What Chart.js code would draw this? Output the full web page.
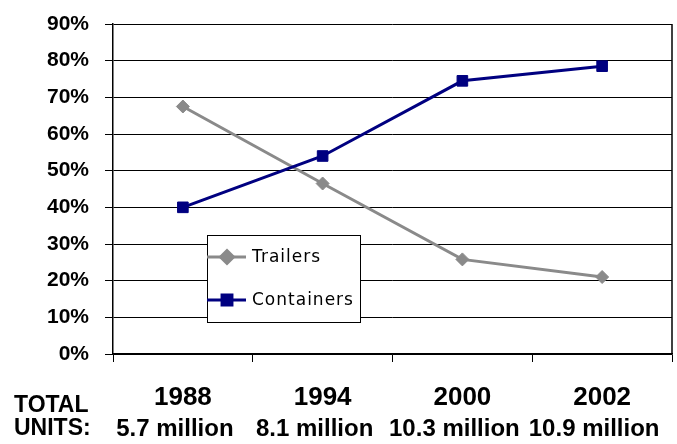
<!DOCTYPE html>
<html>
<head>
<meta charset="utf-8">
<script src="https://cdn.jsdelivr.net/npm/chart.js@4.4.1/dist/chart.umd.min.js"></script>
<style>
  body { margin: 0; background: #fff; }
  #wrap { width: 677px; height: 444px; }
</style>
</head>
<body>
<div id="wrap"><canvas id="shareChart" width="677" height="444"></canvas></div>
<script>
const years = ['1988', '1994', '2000', '2002'];
const totals = ['5.7 million', '8.1 million', '10.3 million', '10.9 million'];
const trailers = [67.5, 46.5, 25.8, 21];
const containers = [40, 54, 74.5, 78.5];
const yTicks = [0, 10, 20, 30, 40, 50, 60, 70, 80, 90];

const GRAY = '#8a8a8a';
const NAVY = '#000080';

// right edge of the plot frame
const rightFrame = {
    id: 'rightFrame',
    afterDatasetsDraw(chart) {
        const a = chart.chartArea;
        const ctx = chart.ctx;
        ctx.save();
        ctx.strokeStyle = '#000';
        ctx.lineWidth = 1.5;
        ctx.beginPath();
        ctx.moveTo(a.right, a.top);
        ctx.lineTo(a.right, a.bottom);
        ctx.stroke();
        ctx.restore();
    }
};

// bottom row: "TOTAL UNITS:" plus the totals under each year
const totalsRow = {
    id: 'totalsRow',
    afterDraw(chart) {
        const ctx = chart.ctx;
        const x = chart.scales.x;
        ctx.save();
        ctx.fillStyle = '#000';
        ctx.font = 'bold 23px "Liberation Sans", Arial, sans-serif';
        ctx.textBaseline = 'middle';
        ctx.textAlign = 'left';
        ctx.fillText('TOTAL', 14, 406);
        ctx.fillText('UNITS:', 14, 429);
        ctx.font = 'bold 24px "Liberation Sans", Arial, sans-serif';
        ctx.textAlign = 'center';
        totals.forEach((t, i) => {
            ctx.fillText(t, x.getPixelForValue(i) - 8, 429);
        });
        ctx.restore();
    }
};

// legend box sitting inside the plot
const boxLegend = {
    id: 'boxLegend',
    afterDraw(chart) {
        const ctx = chart.ctx;
        const left = 207, top = 235, w = 153, h = 87;
        ctx.save();
        ctx.fillStyle = '#fff';
        ctx.fillRect(left, top, w, h);
        ctx.strokeStyle = '#000';
        ctx.lineWidth = 1;
        ctx.strokeRect(left + 0.5, top + 0.5, w, h);

        const items = [
            { label: 'Trailers', color: GRAY, style: 'rectRot', y: top + 22 },
            { label: 'Containers', color: NAVY, style: 'rect', y: top + 65 }
        ];
        items.forEach(it => {
            ctx.strokeStyle = it.color;
            ctx.lineWidth = 3;
            ctx.beginPath();
            ctx.moveTo(left, it.y);
            ctx.lineTo(left + 39, it.y);
            ctx.stroke();
            Chart.helpers.drawPoint(ctx, {
                pointStyle: it.style, radius: it.style === 'rect' ? 7 : 6.5,
                borderWidth: 1
            }, left + 20, it.y);
            ctx.fillStyle = it.color;
            ctx.fill();
            ctx.fillStyle = '#000';
            ctx.font = '17px "DejaVu Sans", Verdana, sans-serif';
            ctx.letterSpacing = '1px';
            ctx.textAlign = 'left';
            ctx.textBaseline = 'middle';
            ctx.fillText(it.label, left + 45, it.y + 1);
        });
        ctx.restore();
    }
};

new Chart(document.getElementById('shareChart').getContext('2d'), {
    type: 'line',
    data: {
        labels: years,
        datasets: [
            {
                label: 'Trailers',
                data: trailers,
                borderColor: GRAY,
                backgroundColor: GRAY,
                borderWidth: 3,
                pointStyle: 'rectRot',
                pointRadius: 6.5,
                pointBorderWidth: 1,
                tension: 0,
                order: 1
            },
            {
                label: 'Containers',
                data: containers,
                borderColor: NAVY,
                backgroundColor: NAVY,
                borderWidth: 3,
                pointStyle: 'rect',
                pointRadius: 7.5,
                pointBorderWidth: 1,
                tension: 0,
                order: 0
            }
        ]
    },
    options: {
        responsive: false,
        animation: false,
        layout: {
            autoPadding: false,
            padding: { top: 24, right: 5, left: 0, bottom: 0 }
        },
        plugins: {
            legend: { display: false },
            tooltip: { enabled: false }
        },
        scales: {
            x: {
                offset: true,
                afterFit(scale) {
                    scale.height = 90;
                    scale.paddingLeft = 0;
                    scale.paddingRight = 0;
                },
                grid: {
                    offset: true,
                    drawOnChartArea: false,
                    color: '#000',
                    tickLength: 8
                },
                border: { color: '#000', width: 1.5 },
                ticks: {
                    color: '#000',
                    padding: 20,
                    maxRotation: 0,
                    font: { family: '"Liberation Sans", Arial, sans-serif', size: 26, weight: 'bold' }
                }
            },
            y: {
                min: 0,
                max: 90,
                afterFit(scale) {
                    scale.width = 113;
                    scale.paddingTop = 0;
                    scale.paddingBottom = 0;
                },
                afterBuildTicks(scale) { scale.ticks = yTicks.map(v => ({ value: v })); },
                grid: {
                    color: '#000',
                    lineWidth: 1,
                    tickLength: 8
                },
                border: { color: '#000', width: 1.5 },
                ticks: {
                    color: '#000',
                    padding: 16,
                    callback: v => v + '%',
                    font: { family: '"Liberation Sans", Arial, sans-serif', size: 21, weight: 'bold' }
                }
            }
        }
    },
    plugins: [rightFrame, totalsRow, boxLegend]
});
</script>
</body>
</html>
